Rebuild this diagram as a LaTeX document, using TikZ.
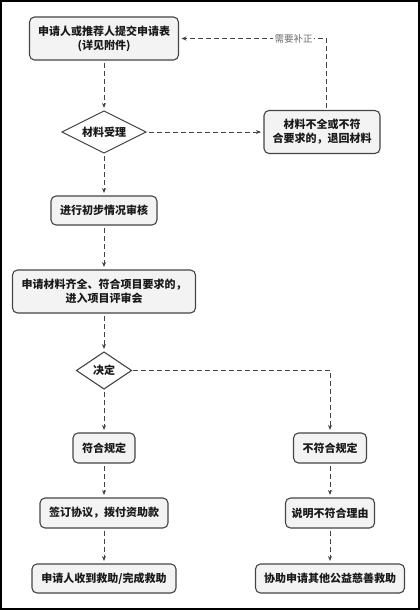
\documentclass[tikz,border=0pt]{standalone}
\usepackage{fontspec}
\setmainfont{Noto Sans CJK SC}
\usetikzlibrary{arrows.meta, positioning, shapes.geometric}
\definecolor{flowline}{HTML}{444444}
\definecolor{flowfill}{HTML}{F3F3F3}
\definecolor{flowtext}{HTML}{1A1A1A}
\definecolor{flownote}{HTML}{6B6B6B}

\begin{document}
\begin{tikzpicture}[
      x=1pt, y=-1pt,
      procbox/.style={draw=flowline, fill=flowfill, rounded corners=5pt, minimum width=#1, minimum height=30pt, align=center, inner sep=0pt, outer sep=0pt, font=\fontsize{11}{14}\selectfont\bfseries, text=flowtext, line width=1.1pt},
      decide/.style={diamond, draw=flowline, fill=white, minimum width=#1, inner sep=0pt, outer sep=0pt, font=\fontsize{11}{14}\selectfont\bfseries, text=flowtext, line width=1.1pt},
      flow/.style={-{Stealth[length=5pt, width=4pt]}, flowline, line width=1pt, dash pattern=on 5pt off 3pt, shorten >=3pt, shorten <=3pt},
      note/.style={font=\fontsize{9.5}{11}\selectfont, text=flownote, fill=white, inner sep=1.5pt}
  ]
    \useasboundingbox (0,0) rectangle (420,610);
    \draw[line width=2pt] (1,1) rectangle (419,609);

    % left column
    \node[procbox=149pt, minimum height=43pt] (apply) at (104,38.5) {申请人或推荐人提交申请表\\(详见附件)};
    \node[decide=84pt, aspect=2, minimum height=42pt, below=51pt of apply] (accept) {材料受理};
    \node[procbox=106pt, minimum height=29pt, below=43pt of accept] (check) {进行初步情况审核};
    \node[procbox=183pt, minimum height=43pt, below=45pt of check] (review) {申请材料齐全、符合项目要求的，\\进入项目评审会};
    \node[decide=55pt, aspect=1.49, minimum height=37pt, below=39pt of review] (decision) {决定};
    \node[procbox=62pt, below=44pt of decision] (ok) {符合规定};
    \node[procbox=128pt, below=35pt of ok] (sign) {签订协议，拨付资助款};
    \node[procbox=144pt, minimum height=29pt, below=36pt of sign] (done) {申请人收到救助/完成救助};

    % right column
    \node[procbox=116pt, minimum height=43pt, right=118pt of accept] (back) {材料不全或不符\\合要求的，退回材料};
    \node[procbox=73pt] (notok) at (330,448) {不符合规定};
    \node[procbox=89pt, below=35pt of notok] (reason) {说明不符合理由};
    \node[procbox=149pt, minimum height=29pt, below=36pt of reason] (other) {协助申请其他公益慈善救助};

    \draw[flow] (apply) -- (accept);
    \draw[flow] (accept) -- (back);
    \draw[flow] ([xshift=4pt]back.north) |- node[note, pos=0.61] {需要补正} (apply.east);
    \draw[flow] (accept) -- (check);
    \draw[flow] (check) -- (review);
    \draw[flow] (review) -- (decision);
    \draw[flow] (decision) -- (ok);
    \draw[flow] (ok) -- (sign);
    \draw[flow] (sign) -- (done);
    \draw[flow, shorten <=1pt] (decision.east) -| (notok);
    \draw[flow] (notok) -- (reason);
    \draw[flow] (reason) -- (other);
  \end{tikzpicture}
\end{document}
